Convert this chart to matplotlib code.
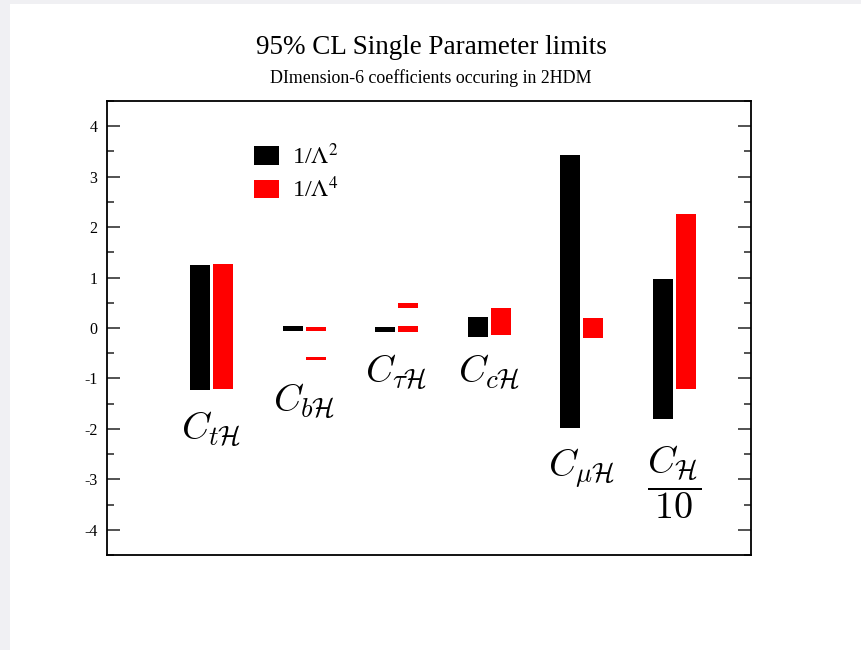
import numpy as np
import matplotlib
matplotlib.use('Agg')
import matplotlib.pyplot as plt
from matplotlib.patches import Patch, Rectangle

plt.rcParams['font.family'] = ['Liberation Serif', 'DejaVu Serif']
plt.rcParams['mathtext.fontset'] = 'cm'
plt.rcParams['axes.unicode_minus'] = False

# coefficients (one group per coefficient)
labels = [r'$C_{t\mathcal{H}}$', r'$C_{b\mathcal{H}}$', r'$C_{\tau\mathcal{H}}$',
          r'$C_{c\mathcal{H}}$', r'$C_{\mu\mathcal{H}}$', r'$\dfrac{C_{\mathcal{H}}}{10}$']
label_y = [-2.02, -1.46, -0.88, -0.89, -2.77, -3.05]

# 1/Lambda^2 limits (black)
black_lo = [-1.23, -0.05, -0.07, -0.17, -1.98, -1.81]
black_hi = [1.25, 0.04, 0.02, 0.22, 3.43, 0.98]

# 1/Lambda^4 limits (red)
red_lo = [-1.21, -0.05, -0.07, -0.13, -0.20, -1.20]
red_hi = [1.27, 0.02, 0.03, 0.39, 0.19, 2.26]

# second allowed interval for some 1/Lambda^4 limits
red2_group = [1, 2]
red2_lo = [-0.64, 0.39]
red2_hi = [-0.58, 0.49]

x = np.arange(1, len(labels) + 1)
w = 0.215
off = 0.124

fig = plt.figure(figsize=(8.62, 6.5), dpi=100)
fig.patch.set_facecolor('#f0f0f3')
fig.patches.append(Rectangle((10 / 862, 0), 1, 1 - 4 / 650, transform=fig.transFigure,
                             facecolor='white', edgecolor='none', zorder=-10))
ax = fig.add_axes([107 / 862, 1 - 555 / 650, 644 / 862, 454 / 650])

blo = np.array(black_lo)
bhi = np.array(black_hi)
rlo = np.array(red_lo)
rhi = np.array(red_hi)
ax.bar(x - off, bhi - blo, bottom=blo, width=w, color='black')
ax.bar(x + off, rhi - rlo, bottom=rlo, width=w, color='red')
g2 = np.array(red2_group)
ax.bar(x[g2] + off, np.array(red2_hi) - np.array(red2_lo), bottom=red2_lo,
       width=w, color='red')

for xi, lab, yl in zip(x, labels, label_y):
    ax.text(xi, yl, lab, fontsize=27.5, ha='center', va='center')

ax.set_xlim(-0.13, 6.83)
ax.set_ylim(-4.5, 4.5)
ax.set_xticks([])
ax.set_yticks(np.arange(-4, 5, 1))
ax.set_yticks(np.arange(-4.5, 4.6, 0.5), minor=True)
ax.tick_params(axis='y', which='both', direction='in', left=True, right=True,
               labelsize=11.5, color='#444444', width=1.3, pad=7)
ax.tick_params(axis='y', which='major', length=9.5)
ax.tick_params(axis='y', which='minor', length=5)
for s in ax.spines.values():
    s.set_linewidth(1.3)

handles = [Patch(facecolor='black'), Patch(facecolor='red')]
leg = ax.legend(handles, [r'1/$\Lambda^2$', r'1/$\Lambda^4$'], loc='upper left',
                bbox_to_anchor=(0.194, 0.955), frameon=False, fontsize=17.5,
                handlelength=1.03, handleheight=0.8, handletextpad=0.55,
                labelspacing=0.33)
for t in leg.get_texts():
    t.set_math_fontfamily('stix')

fig.text(0.5, 1 - 47 / 650, '95% CL Single Parameter limits', ha='center',
         va='center', fontsize=19.5)
fig.text(0.5, 1 - 78 / 650, 'DImension-6 coefficients occuring in 2HDM',
         ha='center', va='center', fontsize=12.9)

fig.savefig('out.png', dpi=100, facecolor=fig.get_facecolor())
